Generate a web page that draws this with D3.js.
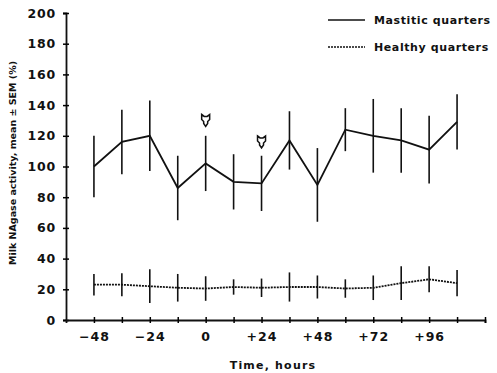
<!DOCTYPE html>
<html>
<head>
<meta charset="utf-8">
<script src="https://cdn.jsdelivr.net/npm/d3@7"></script>
<style>
  body { margin: 0; background: #fff; }
  text { font-family: "DejaVu Sans", sans-serif; fill: #111; }
</style>
</head>
<body>
<script>
'use strict';

// time points (hours relative to challenge)
const hours = [-48, -36, -24, -12, 0, 12, 24, 36, 48, 60, 72, 84, 96, 108];

// mastitic quarters, mean and SEM
const mastiticMean = [100, 116, 120, 86, 102, 90, 89, 117, 88, 124, 120, 117, 111, 129];
const mastiticSem = [20, 21, 23, 21, 18, 18, 18, 19, 24, 14, 24, 21, 22, 18];

// healthy quarters, mean and SEM
const healthyMean = [23, 23, 22, 21, 20.5, 21.5, 21, 21.5, 21.5, 20.5, 21, 24, 26.5, 24];
const healthySem = [7, 7.5, 11, 9, 8, 5, 6, 9.5, 7.5, 6, 8, 11, 8.5, 8.5];

const yTicks = [0, 20, 40, 60, 80, 100, 120, 140, 160, 180, 200];
const xTicks = [-48, -36, -24, -12, 0, 12, 24, 36, 48, 60, 72, 84, 96, 108, 120];
const xLabelled = [-48, -24, 0, 24, 48, 72, 96];

// treatment times marked with arrows
const arrowHours = [0, 24];
const arrowValues = [130, 116];

const legendNames = ["Mastitic quarters", "Healthy quarters"];

let svg = d3.select('body').append('svg')
  .attr('width', 497)
  .attr('height', 373);

let x = d3.scaleLinear().domain([-60, 120]).range([66, 485]);
let y = d3.scaleLinear().domain([0, 200]).range([320, 13]);

// y axis
let yAxis = svg.append('g')
  .attr('transform', 'translate(66,0)')
  .call(d3.axisLeft(y).tickValues(yTicks).tickSize(3).tickPadding(7));
yAxis.select('.domain').attr('stroke', '#111').attr('stroke-width', 1.8);
yAxis.selectAll('.tick line').attr('x1', 3).attr('x2', -3).attr('stroke-width', 1.5);
yAxis.selectAll('.tick text')
  .style('font-size', '12.5px').style('font-weight', 'bold')
  .style('letter-spacing', '0.8px').attr('fill', '#111');

// x axis
let xAxis = svg.append('g')
  .attr('transform', 'translate(0,320)')
  .call(d3.axisBottom(x).tickValues(xTicks).tickSize(3).tickPadding(9)
    .tickFormat(d => xLabelled.includes(d) ? (d > 0 ? '+' + d : d < 0 ? '\u2212' + (-d) : '0') : ''));
xAxis.select('.domain').attr('stroke', '#111').attr('stroke-width', 1.8);
xAxis.selectAll('.tick line').attr('y1', 3).attr('y2', -3).attr('stroke-width', 1.5);
xAxis.selectAll('.tick text')
  .style('font-size', '12.5px').style('font-weight', 'bold')
  .style('letter-spacing', '1px').attr('fill', '#111');

// draw one series: error bars and line
function drawSeries(means, sems, dash, width) {
  svg.append('g').selectAll('line')
    .data(hours)
    .enter()
    .append('line')
    .attr('x1', (d) => x(d))
    .attr('x2', (d) => x(d))
    .attr('y1', (d, i) => y(means[i] + sems[i]))
    .attr('y2', (d, i) => y(means[i] - sems[i]))
    .attr('stroke', '#111')
    .attr('stroke-width', 1.6);

  let line = d3.line()
    .x((d) => x(d))
    .y((d, i) => y(means[i]));
  svg.append('path')
    .datum(hours)
    .attr('d', line)
    .attr('fill', 'none')
    .attr('stroke', '#111')
    .attr('stroke-width', width)
    .attr('stroke-dasharray', dash);
}

drawSeries(mastiticMean, mastiticSem, null, 1.8);
drawSeries(healthyMean, healthySem, '2,1', 1.8);

// arrow markers
svg.append('g').selectAll('path')
  .data(arrowHours)
  .enter()
  .append('path')
  .attr('transform', (d, i) => 'translate(' + x(d) + ',' + y(arrowValues[i]) + ')')
  .attr('d', 'M-4,-6 L-1.5,-4 L1.5,-4 L4,-6 L4,-1 L2,1 L2,3 L0,6 L-2,3 L-2,1 L-4,-1 Z')
  .attr('fill', 'none')
  .attr('stroke', '#111')
  .attr('stroke-width', 1.5);

// legend
let legend = svg.append('g');
legend.selectAll('line')
  .data(legendNames)
  .enter()
  .append('line')
  .attr('x1', 328)
  .attr('x2', 365)
  .attr('y1', (d, i) => 20 + i * 27)
  .attr('y2', (d, i) => 20 + i * 27)
  .attr('stroke', '#111')
  .attr('stroke-width', 1.6)
  .attr('stroke-dasharray', (d, i) => i === 1 ? '2,1' : null);
legend.selectAll('text')
  .data(legendNames)
  .enter()
  .append('text')
  .attr('x', 374)
  .attr('y', (d, i) => 24 + i * 27)
  .style('font-size', '11px')
  .style('font-weight', 'bold')
  .style('letter-spacing', '0.6px')
  .text(d => d);

// axis titles
svg.append('text')
  .attr('transform', 'translate(16,163)rotate(-90)')
  .attr('text-anchor', 'middle')
  .style('font-size', '9.5px')
  .style('font-weight', 'bold')
  .text('Milk NAgase activity, mean \u00b1 SEM (%)');

svg.append('text')
  .attr('x', 273)
  .attr('y', 369)
  .attr('text-anchor', 'middle')
  .style('font-size', '11px')
  .style('font-weight', 'bold')
  .style('letter-spacing', '1.2px')
  .text('Time, hours');
</script>
</body>
</html>
